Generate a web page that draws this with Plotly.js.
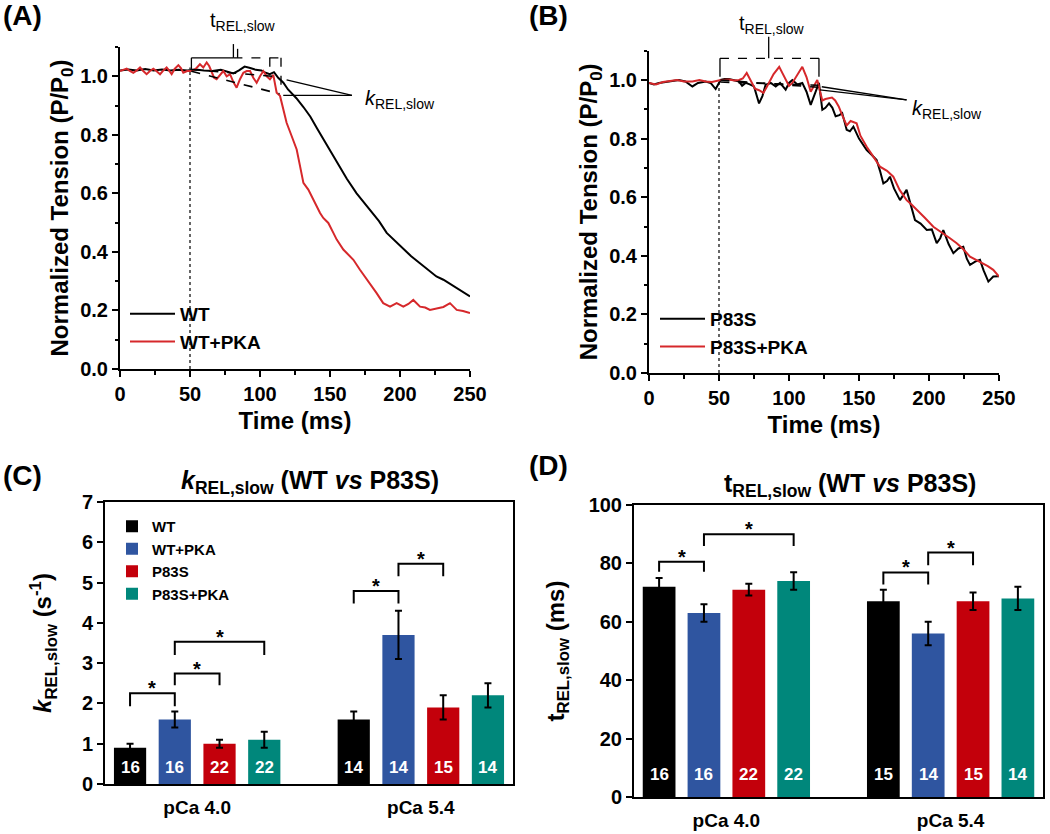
<!DOCTYPE html>
<html><head><meta charset="utf-8">
<script src="https://cdn.plot.ly/plotly-3.0.1.min.js"></script>
<style>html,body{margin:0;padding:0;background:#fff}</style>
</head><body><div id="chart" style="width:1050px;height:834px"></div>
<script>
// ---------- Panel A: WT traces ----------
const timeWT = [0,6,12,18,24,30,36,42,48,54,60,66,72,78,81,85,89,93,97,101,104,107,110,113,116.7,120,126,131,136,141,145,150,155,162,169,174,179,185,190.5,196,202,208,214,220,226,231,236,240,245,250];
const tensionWT = [1.02,1.023,1.02,1.025,1.02,1.023,1.02,1.022,1.02,1.023,1.02,1.018,1.022,1.015,1.01,1.02,1.033,1.028,1.022,1.02,1.012,1.007,1.014,0.995,0.978,0.955,0.925,0.895,0.862,0.82,0.787,0.745,0.704,0.65,0.60,0.57,0.54,0.505,0.465,0.44,0.41,0.385,0.362,0.338,0.316,0.305,0.29,0.275,0.262,0.248];
const timeWTPKA = [0,2.4,4.8,7,9.5,12,14.3,16.6,19,21.4,23.8,26,28.6,31,33.3,35,36.9,39,41.7,43.5,45.2,48,51.2,54,57.1,59.5,61.9,63.7,65.5,67.2,69,71.4,73.8,76.2,78.6,81,83.3,85.7,88.1,90.5,92.9,95.2,97.6,100,102.4,104.8,107.1,109.5,111.9,114.3,116.7,119,122.6,126.2,128.6,131,134.5,138,142.9,145.2,148.8,152.4,154.8,159.5,166.7,171.4,178.6,183.3,188,192.9,197.6,202.4,206,209.5,214.3,218,221.4,226.2,231,235.7,240.5,245,250];
const tensionWTPKA = [1.018,1.022,1.026,1.018,1.012,1.02,1.03,1.018,1.007,1.018,1.026,1.018,1.007,1.02,1.03,1.02,1.007,1.025,1.038,1.028,1.012,1.018,1.018,1.025,1.041,1.03,1.047,1.035,1.012,0.995,0.99,1.005,1.018,1.0,1.007,0.98,0.961,0.99,1.012,1.018,1.018,0.995,0.978,1.0,1.018,1.0,0.99,1.005,0.944,0.933,0.887,0.841,0.796,0.75,0.693,0.636,0.613,0.579,0.533,0.516,0.499,0.465,0.442,0.408,0.373,0.339,0.293,0.259,0.225,0.213,0.225,0.213,0.222,0.236,0.213,0.21,0.202,0.208,0.212,0.225,0.202,0.198,0.191];

// ---------- Panel B: P83S traces ----------
const timeP83S = [0,3.5,7.1,10.7,14.3,18,21.4,26,31,35,40.5,44,47.6,51.2,54,57.1,60.7,64.3,66.5,69,72,75,78.6,81,83.3,87,90.5,93.6,97.6,100,102.4,106,109.5,112.5,115.5,118,121.4,123.8,126,128.6,131,133.3,136,138,141.2,143.5,146,150,155.5,159,162.6,165,167.4,170,172.1,175,179.3,184,187,190,194,198.4,202,205.5,208,210.2,214,217.4,221,224.5,227,229.3,233,236.4,239,242.4,245.9,250];
const tensionP83S = [0.99,0.985,0.99,0.993,0.995,0.998,1.0,0.995,0.978,0.99,0.995,0.99,0.969,1.0,1.003,1.003,0.998,0.995,0.98,0.99,0.985,0.978,0.92,0.945,0.984,0.99,0.978,0.99,0.967,0.99,1.0,0.985,0.99,0.96,0.915,0.95,0.99,0.898,0.905,0.92,0.905,0.876,0.88,0.887,0.83,0.825,0.841,0.8,0.761,0.745,0.727,0.69,0.647,0.655,0.67,0.63,0.59,0.625,0.57,0.522,0.51,0.488,0.49,0.443,0.46,0.488,0.44,0.409,0.425,0.431,0.39,0.369,0.38,0.386,0.35,0.312,0.329,0.33];
const timeP83SPKA = [0,5,10,14.3,20,25,31,36,40.5,45,51.2,57.1,61,64.3,67,69.8,72.5,75.7,78.6,81.7,84,85.7,89,93,96.5,100,102.4,106,109.5,112.5,115.5,120.2,123.8,126,130.7,133,135.5,138,141.2,144,148.3,151,155.5,160,165,170,174.5,179,184,187.5,191.2,197,203.1,206,210.2,215,219.8,224,229.3,234,238.8,242,245.9,250];
const tensionP83SPKA = [0.99,0.985,0.993,0.995,1.0,0.995,0.995,1.0,0.995,0.993,1.0,1.002,0.998,1.0,1.005,1.024,1.0,0.97,0.965,0.956,0.975,0.99,1.02,1.045,1.01,0.98,0.99,1.02,1.045,1.01,0.96,1.0,0.93,0.935,0.94,0.93,0.91,0.88,0.845,0.86,0.852,0.81,0.772,0.74,0.704,0.69,0.67,0.625,0.59,0.575,0.556,0.53,0.499,0.49,0.477,0.46,0.443,0.425,0.397,0.385,0.374,0.365,0.352,0.329];

// ---------- Panels C & D: bar data ----------
const conditions = ['pCa 4.0', 'pCa 5.4'];
const seriesNames = ['WT', 'WT+PKA', 'P83S', 'P83S+PKA'];
const seriesColors = ['#000000', '#2F55A0', '#C3000B', '#00877B'];

const kRel_WT = [0.9, 1.6],       kRelErr_WT = [0.1, 0.2];
const kRel_WTPKA = [1.6, 3.7],    kRelErr_WTPKA = [0.2, 0.6];
const kRel_P83S = [1.0, 1.9],     kRelErr_P83S = [0.1, 0.3];
const kRel_P83SPKA = [1.1, 2.2],  kRelErr_P83SPKA = [0.2, 0.3];
const nC_WT = [16, 14], nC_WTPKA = [16, 14], nC_P83S = [22, 15], nC_P83SPKA = [22, 14];

const tRel_WT = [72, 67],         tRelErr_WT = [3, 4];
const tRel_WTPKA = [63, 56],      tRelErr_WTPKA = [3, 4];
const tRel_P83S = [71, 67],       tRelErr_P83S = [2, 3];
const tRel_P83SPKA = [74, 68],    tRelErr_P83SPKA = [3, 4];
const nD_WT = [16, 15], nD_WTPKA = [16, 14], nD_P83S = [22, 15], nD_P83SPKA = [22, 14];

// significance brackets: [group, fromSeries, toSeries, bracketTop, legBottom]
const sigC = [[0,0,1,2.25,1.93],[0,1,2,2.74,2.45],[0,1,3,3.53,3.2],[1,0,1,4.79,4.48],[1,1,2,5.47,5.16]];
const sigD = [[0,0,1,80.6,77.1],[0,1,3,90,86],[1,0,1,76.9,72.8],[1,1,2,83.7,79.4]];

// ---------- layout helpers ----------
const W = 1050, H = 834;
const FONT = 'Liberation Sans, Arial, Helvetica, sans-serif';
const PA = {x:[120,470], y:[369,47], xr:[0,250], yr:[0,1.1]};
const PB = {x:[649,999], y:[373,50.7], xr:[0,250], yr:[0,1.1]};
const PC = {x:[105,513], y:[784,502]};
const PD = {x:[634,1043], y:[797,505]};
function dx(P){ return [P.x[0]/W, P.x[1]/W]; }
function dy(P){ return [1-P.y[0]/H, 1-P.y[1]/H]; }
function px(P,t){ return (P.x[0] + (t-P.xr[0])/(P.xr[1]-P.xr[0])*(P.x[1]-P.x[0]))/W; }
function py(P,v){ return 1 - (P.y[0] + (v-P.yr[0])/(P.yr[1]-P.yr[0])*(P.y[1]-P.y[0]))/H; }
function barPos(g, s){ return g*5 + s + 1; }

const traces = [];
function lineTrace(x, y, name, color, xa, ya, leg){
  return {type:'scatter', mode:'lines', x:x, y:y, name:name, xaxis:xa, yaxis:ya, legend:leg,
          line:{color:color, width:2}, hoverinfo:'x+y'};
}
traces.push(lineTrace(timeWT, tensionWT, 'WT', '#000000', 'x', 'y', 'legend'));
traces.push(lineTrace(timeWTPKA, tensionWTPKA, 'WT+PKA', '#D6282B', 'x', 'y', 'legend'));
traces.push(lineTrace(timeP83S, tensionP83S, 'P83S', '#000000', 'x2', 'y2', 'legend2'));
traces.push(lineTrace(timeP83SPKA, tensionP83SPKA, 'P83S+PKA', '#D6282B', 'x2', 'y2', 'legend2'));

const kMeans = [kRel_WT, kRel_WTPKA, kRel_P83S, kRel_P83SPKA];
const kErrs = [kRelErr_WT, kRelErr_WTPKA, kRelErr_P83S, kRelErr_P83SPKA];
const kN = [nC_WT, nC_WTPKA, nC_P83S, nC_P83SPKA];
const tMeans = [tRel_WT, tRel_WTPKA, tRel_P83S, tRel_P83SPKA];
const tErrs = [tRelErr_WT, tRelErr_WTPKA, tRelErr_P83S, tRelErr_P83SPKA];
const tN = [nD_WT, nD_WTPKA, nD_P83S, nD_P83SPKA];

function barTrace(s, means, errs, ns, xa, ya, showleg, w){
  return {type:'bar', x: conditions.map((c,g)=>barPos(g,s)), y: means, name: seriesNames[s],
    xaxis:xa, yaxis:ya, legend:'legend3', showlegend:showleg, width:w,
    marker:{color:seriesColors[s], line:{width:0}},
    error_y:{type:'data', array:errs, visible:true, color:'#000', thickness:2, width:3.5},
    hoverinfo:'y'};
}
for (let s=0; s<4; s++) traces.push(barTrace(s, kMeans[s], kErrs[s], kN[s], 'x3', 'y3', true, 0.72));
for (let s=0; s<4; s++) traces.push(barTrace(s, tMeans[s], tErrs[s], tN[s], 'x4', 'y4', false, 0.73));

// ---------- shapes & annotations ----------
const shapes = [];
const annotations = [];
function pline(P, t0, v0, t1, v1, dash, width){
  shapes.push({type:'line', xref:'paper', yref:'paper', x0:px(P,t0), y0:py(P,v0), x1:px(P,t1), y1:py(P,v1),
    line:{color:'#000', width:width||1.3, dash:dash||'solid'}});
}
// Panel A
pline(PA, 50, 0, 50, 1.03, 'dot', 1.2);
pline(PA, 51, 1.023, 109, 1.0, 'dash', 1.6);
pline(PA, 51, 1.017, 114, 0.94, 'dash', 1.6);
pline(PA, 51, 1.025, 51, 1.063, 'solid', 1.3);
pline(PA, 51, 1.063, 81, 1.063, 'solid', 1.3);
pline(PA, 81, 1.063, 81, 1.11, 'solid', 1.3);
pline(PA, 81, 1.063, 115, 1.063, 'dash', 1.3);
pline(PA, 84, 1.063, 84, 1.11, 'dash', 1.3);
pline(PA, 107, 1.063, 107, 1.0, 'dash', 1.3);
pline(PA, 115, 1.063, 115, 0.965, 'dash', 1.3);
pline(PA, 165.7, 0.935, 119, 0.988, 'solid', 1.3);
pline(PA, 165.7, 0.935, 116.6, 0.935, 'solid', 1.3);
// Panel B
pline(PB, 50, 0, 50, 1.0, 'dot', 1.2);
pline(PB, 51, 1.0, 121, 0.975, 'dash', 1.6);
pline(PB, 51, 0.993, 121, 0.982, 'dash', 1.6);
pline(PB, 50.7, 1.011, 50.7, 1.074, 'solid', 1.3);
pline(PB, 121.4, 1.011, 121.4, 1.074, 'solid', 1.3);
pline(PB, 50.7, 1.074, 121.4, 1.074, 'dash', 1.3);
pline(PB, 85.5, 1.074, 85.5, 1.148, 'solid', 1.3);
pline(PB, 184, 0.932, 123.4, 0.977, 'solid', 1.3);
pline(PB, 184, 0.932, 122, 0.966, 'solid', 1.3);

function pann(P, t, v, text, xanchor){
  annotations.push({xref:'paper', yref:'paper', x:px(P,t), y:py(P,v), text:text, showarrow:false,
    xanchor:xanchor||'center', yanchor:'middle', font:{family:FONT, size:20, color:'#000'}});
}
pann(PA, 88, 1.188, 't<sub>REL,slow</sub>');
pann(PA, 173.6, 0.921, '<i>k</i><sub>REL,slow</sub>', 'left');
pann(PB, 87.9, 1.188, 't<sub>REL,slow</sub>');
pann(PB, 186.4, 0.898, '<i>k</i><sub>REL,slow</sub>', 'left');

// Sample-size labels at the foot of each bar
function countLabels(ns, xa, ya, shift){
  ns.forEach((arr, s) => arr.forEach((n, g) => {
    annotations.push({xref:xa, yref:ya, x:barPos(g, s), y:0, text:String(n), showarrow:false,
      xanchor:'center', yanchor:'middle', yshift:shift,
      font:{family:FONT, size:17, color:'#fff', weight:'bold'}});
  }));
}
countLabels(kN, 'x3', 'y3', 17);
countLabels(tN, 'x4', 'y4', 23);

// Brackets C & D
function brackets(list, xa, ya){
  list.forEach(b => {
    const x1 = barPos(b[0], b[1]), x2 = barPos(b[0], b[2]);
    shapes.push({type:'path', xref:xa, yref:ya,
      path:`M${x1},${b[4]} L${x1},${b[3]} L${x2},${b[3]} L${x2},${b[4]}`,
      line:{color:'#000', width:2}});
    annotations.push({xref:xa, yref:ya, x:(x1+x2)/2, y:b[3], text:'<b>*</b>', showarrow:false,
      xanchor:'center', yanchor:'bottom', yshift:-8, font:{family:FONT, size:20, color:'#000'}});
  });
}
brackets(sigC, 'x3', 'y3');
brackets(sigD, 'x4', 'y4');

// Panel labels & titles
function lab(x, y, text, size, xanchor){
  annotations.push({xref:'paper', yref:'paper', x:x/W, y:1-y/H, text:text, showarrow:false,
    xanchor:xanchor||'left', yanchor:'middle', font:{family:FONT, size:size, color:'#000', weight:'bold'}});
}
lab(1, 16, '(A)', 28);
lab(527, 16, '(B)', 28);
lab(1, 475, '(C)', 28);
lab(527, 465, '(D)', 28);
lab(310, 482, '<i>k</i><sub>REL,slow</sub> (WT <i>vs</i> P83S)', 25, 'center');
lab(850, 485, 't<sub>REL,slow</sub> (WT <i>vs</i> P83S)', 25, 'center');

// ---------- axes ----------
const tickF = {family:FONT, size:20, color:'#000', weight:'bold'};
const titleF = {family:FONT, size:24, color:'#000', weight:'bold'};
function timeX(P, anchor){
  return {domain:dx(P), anchor:anchor, range:P.xr, tickmode:'linear', tick0:0, dtick:50,
    ticks:'outside', ticklen:6, tickwidth:2, tickcolor:'#000',
    minor:{tickmode:'linear', tick0:0, dtick:25, ticks:'outside', ticklen:3.5, tickwidth:1.5, tickcolor:'#000'},
    showline:true, linewidth:2, linecolor:'#000', showgrid:false, zeroline:false, tickfont:tickF,
    title:{text:'Time (ms)', font:titleF, standoff:8}, fixedrange:true};
}
function tensionY(P, anchor){
  return {domain:dy(P), anchor:anchor, range:P.yr, tickmode:'linear', tick0:0, dtick:0.2, tickformat:'.1f',
    ticks:'outside', ticklen:6, tickwidth:2, tickcolor:'#000',
    minor:{tickmode:'linear', tick0:0, dtick:0.1, ticks:'outside', ticklen:3.5, tickwidth:1.5, tickcolor:'#000'},
    showline:true, linewidth:2, linecolor:'#000', showgrid:false, zeroline:false, tickfont:tickF,
    title:{text:'Normalized Tension (P/P<sub>0</sub>)', font:titleF, standoff:5}, fixedrange:true};
}
function catX(P, anchor, range){
  return {domain:dx(P), anchor:anchor, range:range, tickmode:'array',
    tickvals: conditions.map((c,g)=>barPos(g,1.5)), ticktext: conditions,
    ticks:'', showline:true, mirror:true, linewidth:2, linecolor:'#000', showgrid:false, zeroline:false,
    tickfont:{family:FONT, size:19, color:'#000', weight:'bold'}, ticklabelstandoff:5, fixedrange:true};
}
function barY(P, anchor, range, dtick, title, standoff){
  return {domain:dy(P), anchor:anchor, range:range, tickmode:'linear', tick0:0, dtick:dtick,
    ticks:'outside', ticklen:6, tickwidth:2, tickcolor:'#000',
    showline:true, mirror:true, linewidth:2, linecolor:'#000', showgrid:false, zeroline:false, tickfont:tickF,
    title:{text:title, font:{family:FONT, size:24, color:'#000', weight:'bold'}, standoff:standoff}, fixedrange:true};
}

const legBase = {bgcolor:'rgba(0,0,0,0)', borderwidth:0, xanchor:'left', yanchor:'top', tracegroupgap:0};
const layout = {
  width:W, height:H, margin:{l:0, r:0, t:0, b:0}, paper_bgcolor:'#fff', plot_bgcolor:'rgba(0,0,0,0)',
  font:{family:FONT, color:'#000'}, barmode:'overlay', hovermode:'closest',
  xaxis: timeX(PA, 'y'), yaxis: tensionY(PA, 'x'),
  xaxis2: timeX(PB, 'y2'), yaxis2: tensionY(PB, 'x2'),
  xaxis3: catX(PC, 'y3', [0.44, 9.56]),
  yaxis3: barY(PC, 'x3', [0, 7], 1, '<i>k</i><sub>REL,slow</sub> (s<sup>-1</sup>)', 23),
  xaxis4: catX(PD, 'y4', [0.44, 9.56]),
  yaxis4: barY(PD, 'x4', [0, 100], 20, 't<sub>REL,slow</sub> (ms)', 17),
  legend: Object.assign({}, legBase, {x:125/W, y:1-295/H, itemwidth:45,
    font:{family:FONT, size:19, color:'#000', weight:'bold'}}),
  legend2: Object.assign({}, legBase, {x:655/W, y:1-300/H, itemwidth:45,
    font:{family:FONT, size:19, color:'#000', weight:'bold'}}),
  legend3: Object.assign({}, legBase, {x:112/W, y:1-510/H,
    font:{family:FONT, size:15, color:'#000', weight:'bold'}}),
  shapes: shapes, annotations: annotations
};
Plotly.newPlot('chart', traces, layout, {displayModeBar:false, responsive:false});
</script></body></html>
